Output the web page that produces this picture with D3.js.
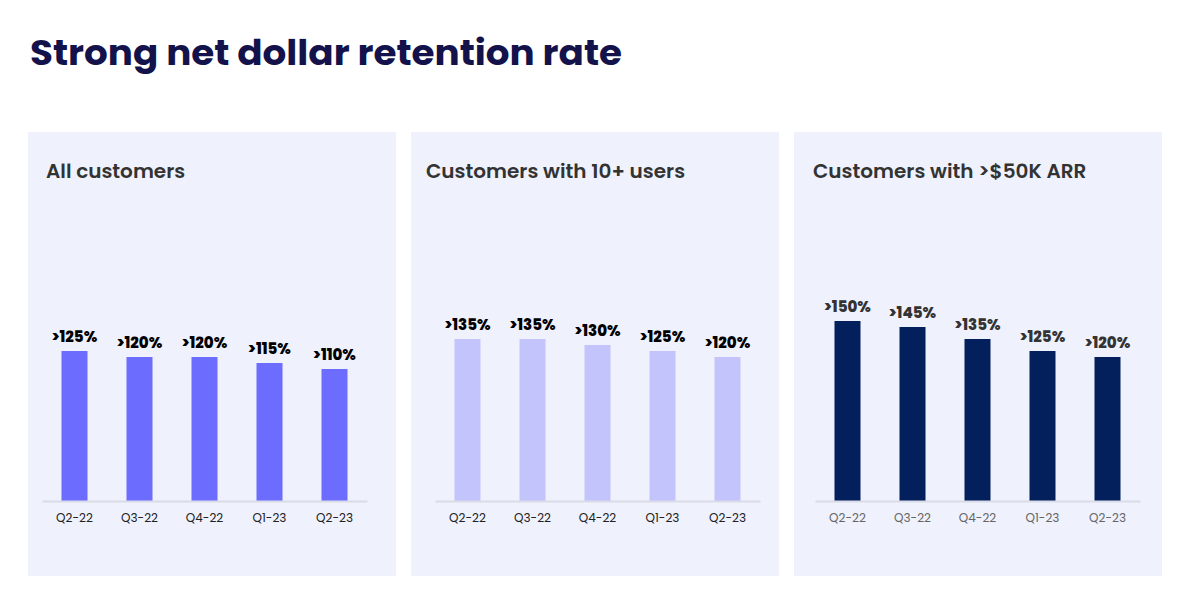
<!DOCTYPE html>
<html>
<head>
<meta charset="utf-8">
<script src="https://cdn.jsdelivr.net/npm/d3@7"></script>
<style>
  body {margin:0; background:#ffffff;}
  svg {display:block;}
</style>
</head>
<body>
<div id="chart"></div>
<script>
var w=1188
var h=614

//Chart data
var quarters=["Q2-22","Q3-22","Q4-22","Q1-23","Q2-23"];
var panelTitles=["All customers","Customers with 10+ users","Customers with >$50K ARR"];
var allCustomers=[125,120,120,115,110];
var tenPlusUsers=[135,135,130,125,120];
var over50kArr=[150,145,135,125,120];
var series=[allCustomers,tenPlusUsers,over50kArr];

//Panel styling
var panelX=[28,411,794];
var titleOffset=[18,15,19];
var axisLeft=[42,435,815];
var barColors=["#6c6cff","#c4c4fc","#03205c"];
var valueColors=["#000000","#000000","#333333"];
var tickColors=["#222222","#222222","#666666"];
var panel={top:132, width:368, height:444};
var baseline=501;

var svg=d3.select("#chart")
          .append("svg")
          .attr("width",w)
          .attr("height",h);

//Main title
svg.append("text")
   .attr("x",30)
   .attr("y",65)
   .text("Strong net dollar retention rate")
   .style("font-family","Poppins, Inter, 'Open Sans', sans-serif")
   .style("font-weight","700")
   .style("font-size","35px")
   .style("fill","#13124b")
   .attr("textLength",592)
   .attr("lengthAdjust","spacingAndGlyphs");

//Shared value scale
var yScale=d3.scaleLinear()
             .domain([0,150])
             .range([baseline,baseline-180]);

series.forEach(function(values,p) {
    var g=svg.append("g");

    //Panel background
    g.append("rect")
     .attr("x",panelX[p])
     .attr("y",panel.top)
     .attr("width",panel.width)
     .attr("height",panel.height)
     .style("fill","#eff1fd");

    //Panel title
    g.append("text")
     .attr("x",panelX[p]+titleOffset[p])
     .attr("y",178)
     .text(panelTitles[p])
     .style("font-family","Poppins, Inter, 'Open Sans', sans-serif")
     .style("font-weight","600")
     .style("font-size","20px")
     .style("fill","#333333");

    var xScale=d3.scaleBand()
                 .domain(quarters)
                 .range([axisLeft[p],axisLeft[p]+325])
                 .paddingInner(0.6)
                 .paddingOuter(0.3);

    //Bars
    g.append("g")
     .selectAll("rect")
     .data(values)
     .enter()
     .append("rect")
     .attr("x",function(d,i) {return xScale(quarters[i]);})
     .attr("y",function(d) {return yScale(d);})
     .attr("width",xScale.bandwidth())
     .attr("height",function(d) {return baseline-yScale(d);})
     .style("fill",barColors[p]);

    //Value labels
    g.append("g")
     .selectAll("text")
     .data(values)
     .enter()
     .append("text")
     .attr("x",function(d,i) {return xScale(quarters[i])+xScale.bandwidth()/2;})
     .attr("y",function(d) {return yScale(d)-9;})
     .text(function(d) {return ">"+d+"%";})
     .attr("text-anchor","middle")
     .style("font-family","Poppins, Inter, 'Open Sans', sans-serif")
     .style("font-weight","800")
     .style("font-size","15px")
     .style("fill",valueColors[p]);

    //X axis
    var axis=g.append("g")
              .attr("transform","translate(0,"+baseline+")")
              .call(d3.axisBottom(xScale).tickSize(0).tickPadding(12));
    axis.select(".domain")
        .attr("stroke","#d9dbe8")
        .attr("stroke-width",2);
    axis.selectAll("text")
        .style("font-family","Poppins, Inter, 'Open Sans', sans-serif")
        .style("font-size","12px")
        .style("fill",tickColors[p]);
});
</script>
</body>
</html>
